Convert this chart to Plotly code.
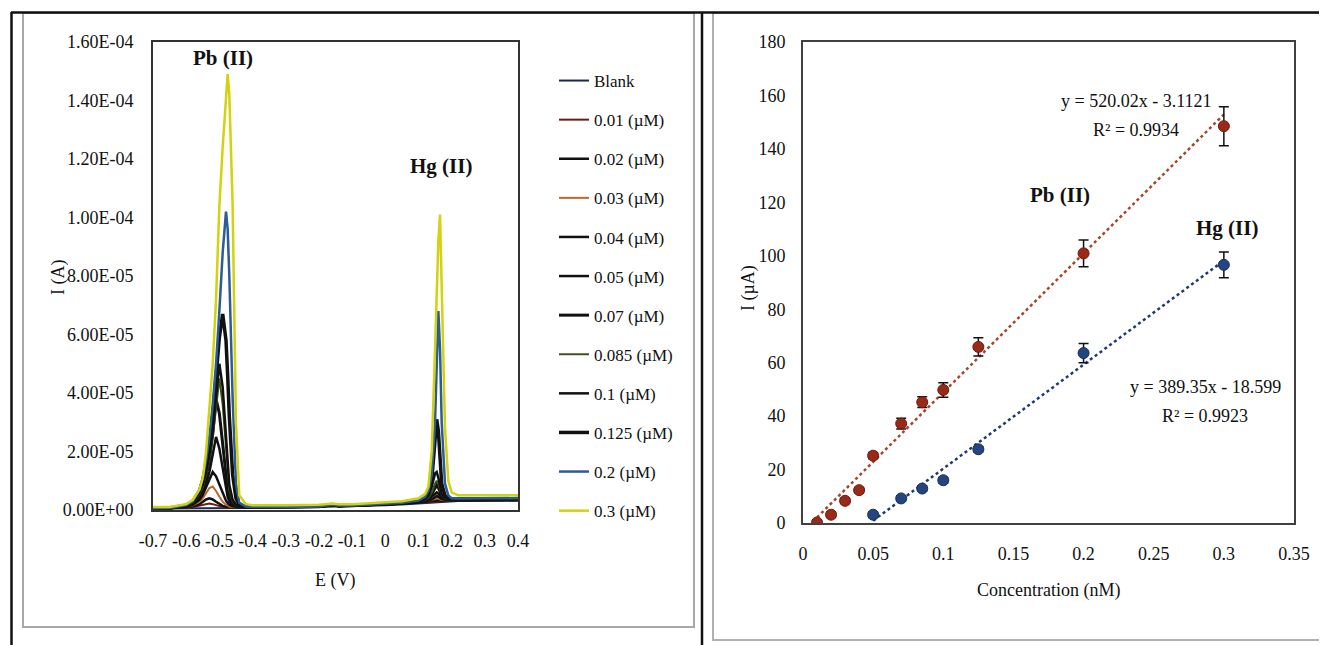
import plotly.graph_objects as go

W, H = 1327, 645
OFF = 8  # page body margin offset
FONT = "Liberation Serif"

# ---------------- Left panel data: DPV curves (current in µA, converted to A) ----------------
E_V = [-0.70, -0.65, -0.60, -0.58, -0.56, -0.55, -0.54, -0.53, -0.52, -0.51,
       -0.50, -0.49, -0.48, -0.475, -0.47, -0.46, -0.45, -0.44, -0.42, -0.40,
       -0.30, -0.20, -0.16, -0.14, -0.10, 0.00, 0.05, 0.10, 0.12, 0.13,
       0.14, 0.15, 0.155, 0.16, 0.165, 0.17, 0.18, 0.19, 0.20, 0.22,
       0.30, 0.40]

series_labels = ["Blank", "0.01 (µM)", "0.02 (µM)", "0.03 (µM)", "0.04 (µM)", "0.05 (µM)",
                 "0.07 (µM)", "0.085 (µM)", "0.1 (µM)", "0.125 (µM)", "0.2 (µM)", "0.3 (µM)"]

I_blank = [0.5, 0.5, 0.6, 0.6, 0.6, 0.6, 0.6, 0.6, 0.6, 0.6,
           0.6, 0.6, 0.6, 0.6, 0.6, 0.6, 0.6, 0.6, 0.6, 0.7,
           0.8, 1.0, 1.2, 1.1, 1.2, 1.6, 1.9, 2.2, 2.4, 2.5,
           2.6, 2.7, 2.7, 2.8, 2.8, 2.8, 2.9, 3.0, 3.0, 3.1,
           3.2, 3.2]
I_001 = [0.6, 0.6, 0.8, 1.0, 1.4, 1.7, 2.0, 2.2, 2.0, 1.6,
         1.2, 1.0, 0.9, 0.9, 0.9, 0.9, 0.9, 0.9, 0.9, 0.9,
         1.0, 1.2, 1.5, 1.3, 1.4, 1.8, 2.1, 2.5, 2.7, 2.8,
         2.9, 3.0, 3.0, 3.0, 3.0, 3.0, 3.0, 3.1, 3.1, 3.2,
         3.3, 3.3]
I_002 = [0.6, 0.6, 0.9, 1.3, 2.0, 2.8, 3.6, 4.0, 3.6, 2.8,
         2.0, 1.4, 1.1, 1.0, 1.0, 1.0, 1.0, 1.0, 1.0, 1.0,
         1.0, 1.2, 1.6, 1.4, 1.5, 1.9, 2.2, 2.6, 2.8, 3.0,
         3.1, 3.3, 3.4, 3.3, 3.2, 3.2, 3.2, 3.2, 3.3, 3.3,
         3.4, 3.4]
I_003 = [0.6, 0.7, 1.0, 1.6, 2.8, 4.0, 5.8, 7.5, 8.0, 6.5,
         4.5, 2.8, 1.8, 1.4, 1.2, 1.0, 1.0, 1.0, 1.0, 1.0,
         1.0, 1.2, 1.6, 1.4, 1.5, 1.9, 2.2, 2.6, 2.9, 3.1,
         3.4, 3.8, 4.0, 3.8, 3.6, 3.4, 3.3, 3.3, 3.3, 3.3,
         3.4, 3.4]
I_004 = [0.6, 0.7, 1.1, 1.8, 3.5, 5.2, 7.8, 10.5, 13.0, 11.5,
         8.5, 5.5, 3.2, 2.4, 1.8, 1.3, 1.1, 1.0, 1.0, 1.0,
         1.0, 1.2, 1.7, 1.4, 1.5, 1.9, 2.2, 2.6, 2.9, 3.2,
         3.6, 4.4, 4.8, 4.5, 4.0, 3.7, 3.5, 3.4, 3.4, 3.4,
         3.5, 3.5]
I_005 = [0.6, 0.7, 1.2, 2.0, 4.0, 6.0, 9.0, 13.0, 19.0, 25.0,
         21.0, 14.0, 7.0, 4.5, 3.0, 1.8, 1.3, 1.1, 1.0, 1.0,
         1.0, 1.2, 1.7, 1.4, 1.5, 1.9, 2.2, 2.7, 3.1, 3.6,
         4.5, 5.6, 6.0, 5.6, 4.8, 4.2, 3.7, 3.5, 3.4, 3.4,
         3.5, 3.5]
I_007 = [0.6, 0.7, 1.3, 2.3, 5.0, 7.5, 11.5, 17.0, 26.0, 38.0,
         33.0, 22.0, 11.0, 7.0, 4.5, 2.2, 1.4, 1.1, 1.0, 1.0,
         1.0, 1.2, 1.7, 1.4, 1.5, 1.9, 2.3, 2.8, 3.3, 4.0,
         5.5, 7.5, 8.5, 7.6, 6.0, 4.8, 3.9, 3.6, 3.5, 3.5,
         3.6, 3.6]
I_0085 = [0.6, 0.7, 1.4, 2.5, 5.5, 8.0, 12.0, 17.5, 25.0, 35.0,
          45.0, 36.0, 20.0, 12.0, 7.0, 3.0, 1.6, 1.2, 1.0, 1.0,
          1.0, 1.2, 1.7, 1.4, 1.5, 1.9, 2.3, 2.9, 3.5, 4.3,
          6.0, 9.0, 10.0, 9.0, 7.0, 5.2, 4.0, 3.7, 3.6, 3.6,
          3.7, 3.7]
I_01 = [0.6, 0.7, 1.5, 2.7, 6.0, 8.8, 13.0, 19.0, 27.0, 38.0,
        50.0, 42.0, 25.0, 15.0, 8.5, 3.5, 1.8, 1.2, 1.0, 1.0,
        1.0, 1.2, 1.7, 1.4, 1.5, 2.0, 2.4, 3.0, 3.8, 5.0,
        8.0, 12.5, 13.0, 11.0, 8.0, 5.5, 4.2, 3.8, 3.7, 3.7,
        3.8, 3.8]
I_0125 = [0.6, 0.7, 1.6, 2.9, 6.5, 10.0, 15.0, 22.0, 32.0, 45.0,
          59.0, 67.0, 58.0, 46.0, 32.0, 12.0, 4.0, 1.6, 1.1, 1.0,
          1.0, 1.2, 1.8, 1.5, 1.5, 2.0, 2.4, 3.0, 4.0, 5.5,
          10.0, 24.0, 31.0, 27.0, 17.0, 9.0, 5.0, 4.0, 3.8, 3.8,
          3.9, 3.9]
I_02 = [0.6, 0.7, 1.7, 3.0, 7.0, 11.0, 17.0, 25.0, 36.0, 50.0,
        68.0, 88.0, 102.0, 96.0, 80.0, 38.0, 9.0, 2.5, 1.2, 1.0,
        1.0, 1.2, 1.8, 1.5, 1.5, 2.0, 2.5, 3.2, 4.5, 6.5,
        12.0, 30.0, 52.0, 68.0, 55.0, 30.0, 9.0, 5.0, 4.0, 3.9,
        4.0, 4.0]
I_03 = [1.0, 1.0, 2.0, 3.5, 7.0, 11.0, 20.0, 34.0, 50.0, 72.0,
        104.0, 124.0, 140.0, 149.0, 142.0, 104.0, 30.0, 5.0, 2.0, 1.6,
        1.6, 1.8, 2.2, 2.0, 2.0, 2.5, 3.0, 4.0, 5.5, 8.0,
        20.0, 55.0, 75.0, 92.0, 101.0, 78.0, 28.0, 10.0, 6.0, 5.0,
        5.0, 5.0]

series_currents = [I_blank, I_001, I_002, I_003, I_004, I_005,
                   I_007, I_0085, I_01, I_0125, I_02, I_03]
series_colors = ["#1F2A4A", "#6B1E12", "#111111", "#B8692A", "#111111", "#111111",
                 "#111111", "#3E5416", "#111111", "#111111", "#2A5C96", "#D2D20E"]
series_widths = [2, 2, 2.5, 2, 2.5, 2.5, 3, 2, 2.5, 3.5, 2.5, 2.5]

left_yticks = [0, 2e-5, 4e-5, 6e-5, 8e-5, 1e-4, 1.2e-4, 1.4e-4, 1.6e-4]
left_yticktext = ["0.00E+00", "2.00E-05", "4.00E-05", "6.00E-05", "8.00E-05",
                  "1.00E-04", "1.20E-04", "1.40E-04", "1.60E-04"]
left_xticks = [-0.7, -0.6, -0.5, -0.4, -0.3, -0.2, -0.1, 0, 0.1, 0.2, 0.3, 0.4]
left_xticktext = ["-0.7", "-0.6", "-0.5", "-0.4", "-0.3", "-0.2", "-0.1", "0",
                  "0.1", "0.2", "0.3", "0.4"]

# ---------------- Right panel data: calibration ----------------
conc_pb = [0.01, 0.02, 0.03, 0.04, 0.05, 0.07, 0.085, 0.1, 0.125, 0.2, 0.3]
i_pb = [0.2, 3.1, 8.3, 12.3, 25.2, 37.2, 45.2, 49.8, 65.9, 100.9, 148.5]
err_pb = [1, 1, 1, 1, 1.2, 2.0, 2.0, 2.7, 3.4, 5.0, 7.3]

conc_hg = [0.05, 0.07, 0.085, 0.1, 0.125, 0.2, 0.3]
i_hg = [3.1, 9.2, 12.9, 16.0, 27.6, 63.6, 96.6]
err_hg = [1, 1, 1, 1, 1, 3.6, 4.8]

pb_fit = (520.02, -3.1121)
hg_fit = (389.35, -18.599)

right_xticks = [0, 0.05, 0.1, 0.15, 0.2, 0.25, 0.3, 0.35]
right_xticktext = ["0", "0.05", "0.1", "0.15", "0.2", "0.25", "0.3", "0.35"]
right_yticks = [0, 20, 40, 60, 80, 100, 120, 140, 160, 180]


def px(x):
    return (x - OFF) / W


def py(y):
    return 1 - (y - OFF) / H


fig = go.Figure()

for k, (lab, cur, col, lw) in enumerate(zip(series_labels, series_currents,
                                            series_colors, series_widths)):
    fig.add_trace(go.Scatter(
        x=E_V, y=[v * 1e-6 for v in cur], mode="lines", name=lab,
        line=dict(color=col, width=lw), xaxis="x", yaxis="y",
        legendgroup=lab, showlegend=True, hoverinfo="skip"))

# trendlines
for conc, fit, col in [(conc_pb, pb_fit, "#A8442A"), (conc_hg, hg_fit, "#1F3A73")]:
    xs = [min(conc), max(conc)]
    ys = [fit[0] * x + fit[1] for x in xs]
    fig.add_trace(go.Scatter(x=xs, y=ys, mode="lines", xaxis="x2", yaxis="y2",
                             line=dict(color=col, width=2.5, dash="dot"),
                             showlegend=False, hoverinfo="skip"))

for conc, cur, err, col, edge in [(conc_pb, i_pb, err_pb, "#9A2A18", "#6E1A0E"),
                                  (conc_hg, i_hg, err_hg, "#24457F", "#182F5C")]:
    fig.add_trace(go.Scatter(
        x=conc, y=cur, mode="markers", xaxis="x2", yaxis="y2",
        marker=dict(size=11, color=col, line=dict(color=edge, width=1)),
        error_y=dict(type="data", array=err, visible=True, color="#111111",
                     thickness=1.5, width=5),
        showlegend=False, hoverinfo="skip"))

axis_font = dict(family=FONT, size=18, color="#111111")
common = dict(showgrid=False, zeroline=False, ticks="", showline=True,
              linewidth=2, mirror=True, automargin=False, tickfont=axis_font)

fig.update_layout(
    width=W, height=H,
    margin=dict(l=0, r=0, t=0, b=0, pad=0, autoexpand=False),
    paper_bgcolor="white", plot_bgcolor="white",
    font=dict(family=FONT, color="#111111"),
    xaxis=dict(domain=[px(153), px(518)], range=[-0.7, 0.4], anchor="y",
               tickvals=left_xticks, ticktext=left_xticktext,
               linecolor="#333333", ticklabelstandoff=13, **common),
    yaxis=dict(domain=[py(510), py(42)], range=[0, 1.6e-4], anchor="x",
               tickvals=left_yticks, ticktext=left_yticktext,
               linecolor="#333333", ticklabelstandoff=14, **common),
    xaxis2=dict(domain=[px(803), px(1294)], range=[0, 0.35], anchor="y2",
                tickvals=right_xticks, ticktext=right_xticktext,
                linecolor="#404040", ticklabelstandoff=13, **common),
    yaxis2=dict(domain=[py(523), py(42)], range=[0, 180], anchor="x2",
                tickvals=right_yticks,
                linecolor="#404040", ticklabelstandoff=12, **common),
    legend=dict(x=px(554), y=py(63), xanchor="left", yanchor="top",
                font=dict(family=FONT, size=17, color="#111111"),
                tracegroupgap=14, bgcolor="rgba(0,0,0,0)", borderwidth=0,
                itemclick=False, itemdoubleclick=False),
    showlegend=True,
)

ann = [
    ("<b>Pb (II)</b>", 223, 58, 21, 0),
    ("<b>Hg (II)</b>", 441, 166, 21, 0),
    ("I (A)", 58, 278, 18, -90),
    ("E (V)", 335, 580, 18, 0),
    ("y = 520.02x - 3.1121", 1136, 101, 18, 0),
    ("R² = 0.9934", 1136, 130, 18, 0),
    ("<b>Pb (II)</b>", 1060, 195, 21, 0),
    ("<b>Hg (II)</b>", 1227, 228, 21, 0),
    ("y = 389.35x - 18.599", 1205, 387, 18, 0),
    ("R² = 0.9923", 1205, 416, 18, 0),
    ("I (µA)", 748, 288, 18, -90),
    ("Concentration (nM)", 1048, 590, 18, 0),
]
for text, x, y, size, rot in ann:
    fig.add_annotation(text=text, x=px(x), y=py(y), xref="paper", yref="paper",
                       showarrow=False, xanchor="center", yanchor="middle",
                       textangle=rot, font=dict(family=FONT, size=size, color="#111111"))

# panel frames
shapes = [
    dict(type="rect", x0=px(23), x1=px(694), y0=py(627), y1=py(13),
         line=dict(color="#A8A8A8", width=2)),
    dict(type="rect", x0=px(713), x1=px(1325), y0=py(640), y1=py(13),
         line=dict(color="#B0B0B0", width=2)),
    dict(type="line", x0=px(11), x1=1, y0=py(12.5), y1=py(12.5),
         line=dict(color="#111111", width=2.5)),
    dict(type="line", x0=px(11.5), x1=px(11.5), y0=py(12), y1=0,
         line=dict(color="#111111", width=2.5)),
    dict(type="line", x0=px(702), x1=px(702), y0=py(12), y1=0,
         line=dict(color="#111111", width=2.5)),
]
for s in shapes:
    fig.add_shape(xref="paper", yref="paper", **s)

fig.write_html("out.html")
